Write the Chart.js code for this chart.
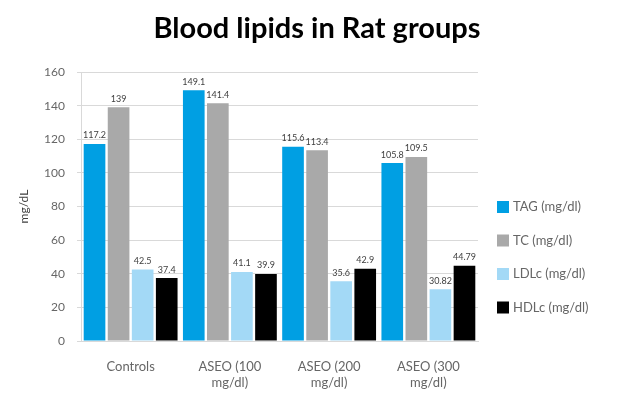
<!DOCTYPE html>
<html>
<head>
<meta charset="utf-8">
<script src="https://cdn.jsdelivr.net/npm/chart.js@4"></script>
<style>
  html, body { margin: 0; padding: 0; background: #fff; }
  #wrap { width: 634px; height: 400px; position: relative; }
</style>
</head>
<body>
<div id="wrap"><canvas id="c" width="634" height="400"></canvas></div>
<script>
// Rat groups and lipid measurements (mg/dl)
const groups = [["Controls"], ["ASEO (100", "mg/dl)"], ["ASEO (200", "mg/dl)"], ["ASEO (300", "mg/dl)"]];
const seriesNames = ["TAG (mg/dl)", "TC (mg/dl)", "LDLc (mg/dl)", "HDLc (mg/dl)"];
const tag  = [117.2, 149.1, 115.6, 105.8];
const tc   = [139, 141.4, 113.4, 109.5];
const ldlc = [42.5, 41.1, 35.6, 30.82];
const hdlc = [37.4, 39.9, 42.9, 44.79];
const yTicks = [0, 20, 40, 60, 80, 100, 120, 140, 160];
const chartTitle = "Blood lipids in Rat groups";

const colors = ["#009fe3", "#a9a9a9", "#a3d9f6", "#000000"];
const FONT = "Lato, 'Open Sans', sans-serif";

// value labels above each bar
const valueLabels = {
  id: "valueLabels",
  afterDatasetsDraw(chart) {
    const ctx = chart.ctx;
    ctx.save();
    ctx.font = "9px " + FONT;
    ctx.fillStyle = "#404040";
    ctx.textAlign = "center";
    ctx.textBaseline = "bottom";
    chart.data.datasets.forEach((ds, i) => {
      chart.getDatasetMeta(i).data.forEach((bar, j) => {
        ctx.fillText(String(ds.data[j]), bar.x, bar.y - 4);
      });
    });
    ctx.restore();
  }
};

// heading centred across the whole canvas
const heading = {
  id: "heading",
  afterDraw(chart) {
    const ctx = chart.ctx;
    ctx.save();
    ctx.font = "bold 29px " + FONT;
    ctx.fillStyle = "#000";
    ctx.textAlign = "center";
    ctx.textBaseline = "middle";
    ctx.fillText(chartTitle, chart.width / 2, 29);
    ctx.restore();
  }
};

// legend column to the right of the plot
const sideLegend = {
  id: "sideLegend",
  afterDraw(chart) {
    const ctx = chart.ctx;
    const x0 = chart.chartArea.right + 19;
    const y0 = chart.chartArea.top + 135;
    ctx.save();
    ctx.font = "13px " + FONT;
    ctx.textBaseline = "middle";
    ctx.textAlign = "left";
    chart.data.datasets.forEach((ds, i) => {
      const y = y0 + i * 33.5;
      ctx.fillStyle = ds.backgroundColor;
      ctx.fillRect(x0, y - 6, 12, 12);
      ctx.fillStyle = "#666666";
      ctx.fillText(ds.label, x0 + 16, y);
    });
    ctx.restore();
  }
};

new Chart(document.getElementById("c"), {
  type: "bar",
  data: {
    labels: groups,
    datasets: [tag, tc, ldlc, hdlc].map((d, i) => ({
      label: seriesNames[i],
      data: d,
      backgroundColor: colors[i],
      borderWidth: 0,
      categoryPercentage: 0.97,
      barPercentage: 0.9
    }))
  },
  options: {
    responsive: false,
    animation: false,
    layout: { padding: { left: 0, right: 156, top: 72, bottom: 0 } },
    plugins: {
      legend: { display: false },
      tooltip: { enabled: false },
      title: { display: false }
    },
    scales: {
      x: {
        grid: { display: false, drawTicks: false },
        border: { display: true, color: "#d9d9d9" },
        ticks: { color: "#666666", font: { family: FONT, size: 13 }, padding: 18, maxRotation: 0 },
        afterFit(scale) { scale.height = 59; }
      },
      y: {
        min: 0,
        max: 160,
        afterBuildTicks(scale) { scale.ticks = yTicks.map(v => ({ value: v })); },
        grid: { color: "#d9d9d9", tickLength: 4 },
        border: { display: true, color: "#d9d9d9" },
        ticks: { color: "#666666", font: { family: FONT, size: 12 }, padding: 12 },
        title: {
          display: true,
          text: "mg/dL",
          color: "#404040",
          font: { family: FONT, size: 12 },
          padding: { top: 17 }
        },
        afterFit(scale) { scale.width = 81; }
      }
    }
  },
  plugins: [valueLabels, heading, sideLegend]
});
</script>
</body>
</html>
